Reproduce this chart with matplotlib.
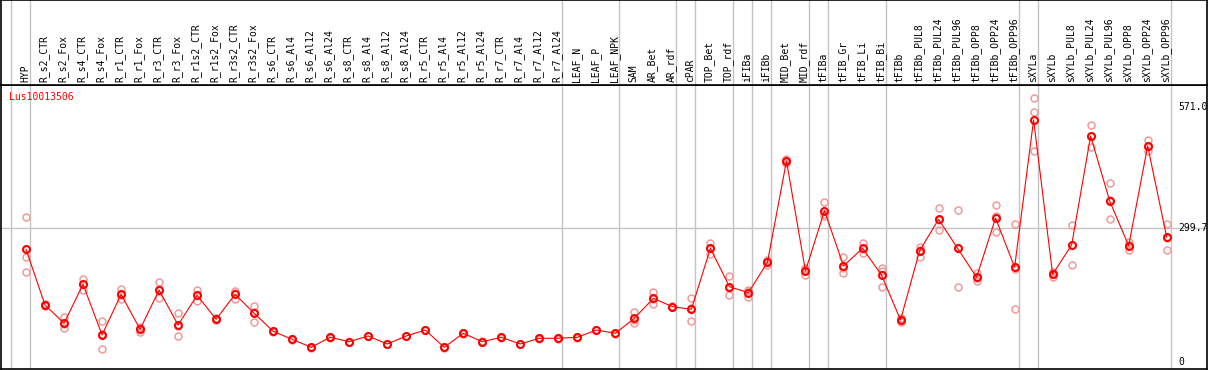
import matplotlib
matplotlib.use('Agg')
import matplotlib.pyplot as plt
import numpy as np

plt.rcParams['font.family'] = 'DejaVu Sans Mono'

gene = 'Lus10013506'

samples = ['HYP', 'R_s2_CTR', 'R_s2_Fox', 'R_s4_CTR', 'R_s4_Fox', 'R_r1_CTR', 'R_r1_Fox',
           'R_r3_CTR', 'R_r3_Fox', 'R_r1s2_CTR', 'R_r1s2_Fox', 'R_r3s2_CTR', 'R_r3s2_Fox',
           'R_s6_CTR', 'R_s6_Al4', 'R_s6_Al12', 'R_s6_Al24', 'R_s8_CTR', 'R_s8_Al4',
           'R_s8_Al12', 'R_s8_Al24', 'R_r5_CTR', 'R_r5_Al4', 'R_r5_Al12', 'R_r5_Al24',
           'R_r7_CTR', 'R_r7_Al4', 'R_r7_Al12', 'R_r7_Al24', 'LEAF_N', 'LEAF_P', 'LEAF_NPK',
           'SAM', 'AR_Bet', 'AR_rdf', 'cPAR', 'TOP_Bet', 'TOP_rdf', 'iFIBa', 'iFIBb',
           'MID_Bet', 'MID_rdf', 'tFIBa', 'tFIB_Gr', 'tFIB_Li', 'tFIB_Bi', 'tFIBb',
           'tFIBb_PUL8', 'tFIBb_PUL24', 'tFIBb_PUL96', 'tFIBb_OPP8', 'tFIBb_OPP24',
           'tFIBb_OPP96', 'sXYLa', 'sXYLb', 'sXYLb_PUL8', 'sXYLb_PUL24', 'sXYLb_PUL96',
           'sXYLb_OPP8', 'sXYLb_OPP24', 'sXYLb_OPP96']

mean = [252.7, 128.2, 87.2, 174.5, 61.1, 152.1, 73.8, 161.7, 83.4, 149.9, 96.2, 152.1, 109.6,
        69.3, 51.4, 33.5, 55.9, 46.1, 58.8, 40.9, 58.8, 72.2, 33.5, 64.9, 46.1,
        55.9, 40.9, 53.7, 53.7, 55.9, 72.2, 64.9,
        98.4, 143.1, 124.4, 118.5, 255.0, 169.1, 155.7, 223.7, 450.2, 204.2,
        339.1, 215.4, 255.0, 195.3, 94.6, 248.9, 319.8, 255.0, 190.1, 322.7, 212.5,
        541.9, 196.8, 262.4, 506.2, 360.8, 260.8, 483.8, 279.6]

rep1 = [325.0, 131.0, 100.6, 185.6, 91.7, 163.3, 79.6, 178.9, 109.6, 161.7, 98.0, 160.1, 125.9,
        70.0, 52.0, 34.0, 56.5, 46.5, 59.5, 41.5, 59.3, 72.8, 34.0, 65.5, 46.6,
        56.4, 41.4, 54.2, 54.2, 56.4, 72.7, 65.4,
        111.8, 156.6, 126.0, 143.1, 266.8, 192.3, 161.7, 228.8, 454.7, 210.2,
        357.9, 236.2, 266.2, 211.6, 99.1, 258.6, 344.4, 340.6, 199.1, 351.1, 308.7,
        590.5, 202.0, 307.1, 530.8, 400.4, 268.4, 497.2, 309.3]
rep2 = [234.8, 128.0, 76.1, 161.7, 29.1, 141.6, 67.8, 143.1, 58.8, 137.8, 96.0, 142.2, 90.8,
        68.6, 50.8, 33.0, 55.3, 45.6, 58.2, 40.4, 58.3, 71.6, 33.0, 64.3, 45.6,
        55.4, 40.4, 53.2, 53.2, 55.4, 71.7, 64.4,
        88.6, 130.4, 124.0, 91.7, 242.3, 149.9, 146.7, 217.6, 445.8, 195.3,
        327.2, 199.1, 245.1, 169.1, 90.1, 236.2, 295.9, 167.7, 182.5, 290.8, 119.2,
        559.2, 190.8, 217.6, 482.2, 319.8, 251.2, 472.6, 251.2]
rep3 = [201.3, 126.0, 85.0, 176.2, 62.4, 151.4, 74.5, 163.1, 81.8, 150.2, 94.6, 154.0, 112.1,
        69.3, 51.4, 33.5, 55.9, 46.1, 58.8, 40.9, 58.8, 72.2, 33.5, 64.9, 46.1,
        55.9, 40.9, 53.7, 53.7, 55.9, 72.2, 64.9,
        94.8, 142.3, 123.0, 120.7, 256.0, 165.1, 158.7, 224.7, 450.0, 207.1,
        332.2, 210.9, 253.7, 205.2, 94.6, 251.9, 319.1, 256.7, 188.7, 326.2, 209.6,
        473.3, 197.6, 262.5, 505.6, 362.2, 262.8, 481.6, 278.3]

# group separators sit just right of these sample indices
group_ends = [-1, 0, 28, 31, 34, 35, 37, 38, 39, 41, 42, 45, 52, 53, 60]
ref_value = 299.7
ytick_vals = [571.0, 299.7, 0]
ytick_text = ['571.0', '299.7', '0']

W, H = 1209, 370
fig = plt.figure(figsize=(W / 100, H / 100), dpi=100)
ax = fig.add_axes([1 / W, 1 / H, 1206 / W, 284 / H])
axl = fig.add_axes([1 / W, 285 / H, 1206 / W, 85 / H], sharex=ax)

x = np.arange(len(samples))
xlim = (-1.315, 62.12)

for a in (ax, axl):
    for g in group_ends:
        a.axvline(g + 0.21, color='#c4c4c4', lw=1.0, zorder=0)
    for s in a.spines.values():
        s.set_color('black')
        s.set_linewidth(1.2)
    a.tick_params(left=False, bottom=False, labelleft=False, labelbottom=False)

ax.axhline(ref_value, color='#c4c4c4', lw=1.0, zorder=0)

for r in (rep1, rep2, rep3):
    ax.plot(x, r, 'o', ls='none', ms=5, mfc='none', mec='#f09a9a', mew=1.1, zorder=2)
ax.plot(x, mean, '-', color='red', lw=0.8, zorder=3)
ax.plot(x, mean, 'o', ls='none', ms=5, mfc='none', mec='red', mew=1.5, zorder=4)

ax.set_xlim(*xlim)
ax.set_ylim(-15, 620.2)
axl.set_ylim(0, 1)

for v, t in zip(ytick_vals, ytick_text):
    ax.text(0.976, v, t, transform=ax.get_yaxis_transform(), fontsize=7,
            va='center', ha='left', clip_on=True)

ax.text(8 / 1206, 0.957, gene, transform=ax.transAxes, color='red', fontsize=7,
        va='center', ha='left')

for i, name in enumerate(samples):
    axl.text(i - 0.05, 0.03, name, rotation=90, fontsize=7, ha='center', va='bottom')

fig.savefig('out.png', dpi=100)
